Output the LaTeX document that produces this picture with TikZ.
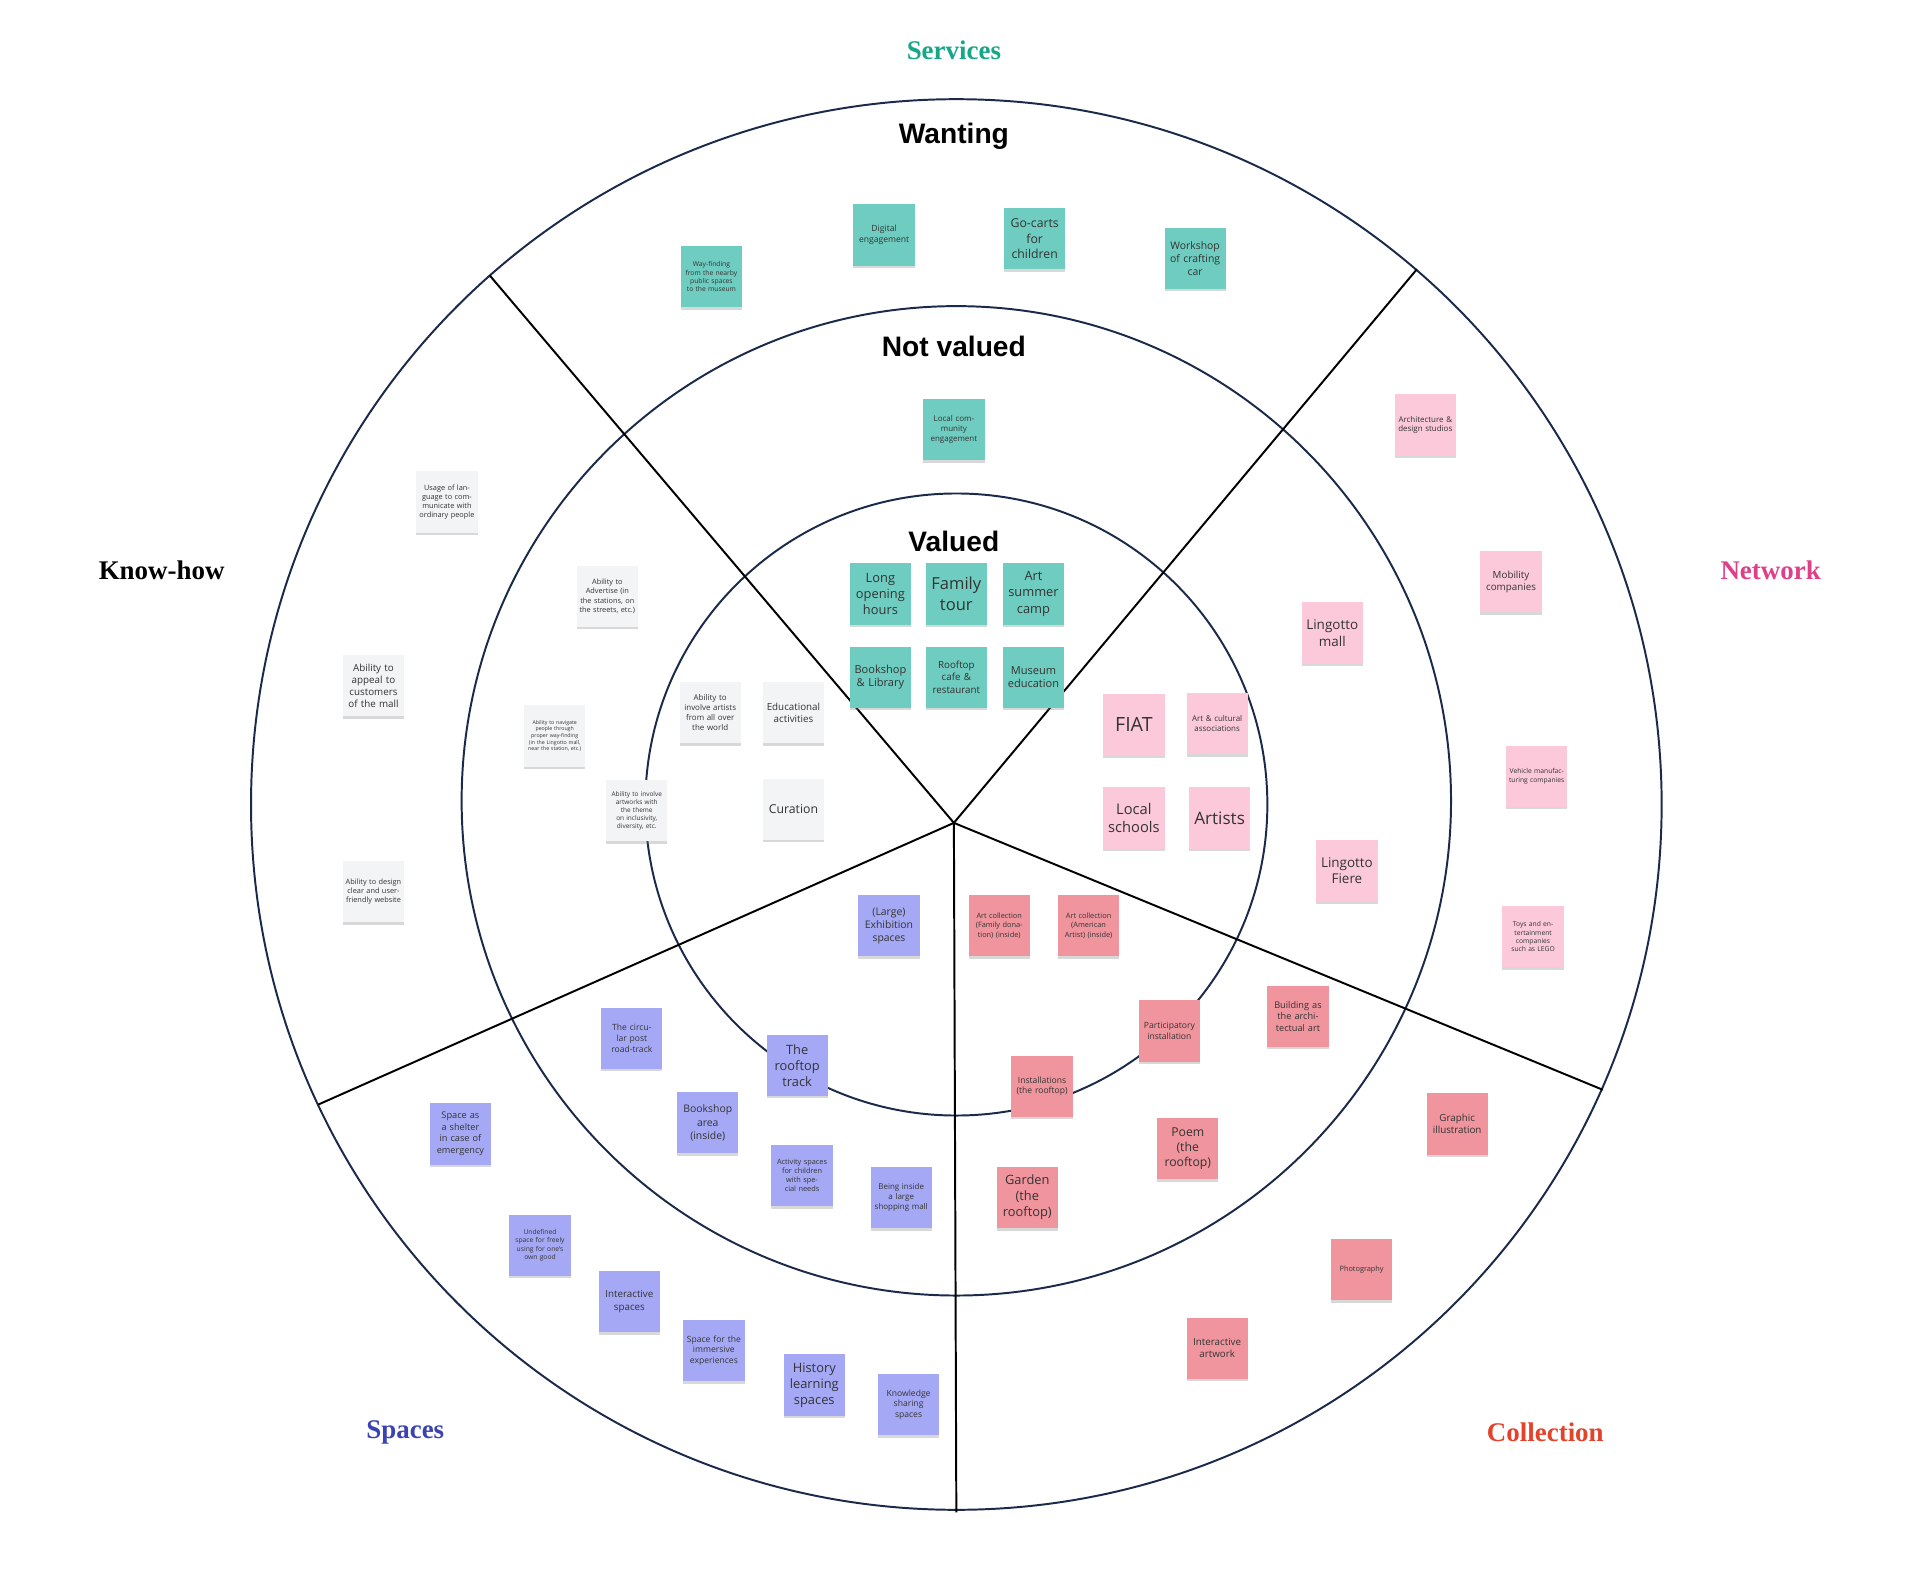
\documentclass[tikz,border=0pt]{standalone}
\usepackage{fontspec}
\setmainfont{Open Sans}
\newfontfamily\ringfont{Liberation Sans}
\newfontfamily\catfont{Liberation Serif}
\usetikzlibrary{positioning,shadows}
\definecolor{ringline}{HTML}{1C2A4A}
\definecolor{tealnote}{HTML}{6FCCC0}
\definecolor{whitenote}{HTML}{F3F4F6}
\definecolor{pinknote}{HTML}{FBC9DA}
\definecolor{salmonnote}{HTML}{F0959E}
\definecolor{bluenote}{HTML}{A5A9F5}
\definecolor{servicescol}{HTML}{17A688}
\definecolor{networkcol}{HTML}{DF3F88}
\definecolor{spacescol}{HTML}{3B43B3}
\definecolor{collectioncol}{HTML}{E5422B}
\newcommand{\fs}[1]{\fontsize{#1}{#1}\selectfont\baselineskip=1.25\baselineskip}
\tikzset{
    note/.style={minimum width=50pt, minimum height=50pt, text width=46pt,
        align=center, inner sep=1pt, text=black!80,
        drop shadow={opacity=0.3, shadow xshift=0pt, shadow yshift=-2pt}},
    teal note/.style={note, fill=tealnote},
    white note/.style={note, fill=whitenote},
    pink note/.style={note, fill=pinknote},
    salmon note/.style={note, fill=salmonnote},
    blue note/.style={note, fill=bluenote},
    ring title/.style={font=\ringfont\bfseries\fontsize{23}{26}\selectfont},
    cat title/.style={font=\catfont\bfseries\fontsize{22}{26}\selectfont}
}
\begin{document}
\begin{tikzpicture}[x=1pt, y=-1pt]
    \useasboundingbox[fill=white] (0,0) rectangle (1568,1286);
    % Rings
    \draw[ringline, line width=1.6pt] (781,657) circle (576pt);
    \draw[ringline, line width=1.6pt] (781,654) circle (404pt);
    \draw[ringline, line width=1.6pt] (781,657) circle (254pt);
    % Spokes
    \coordinate (hub) at (779,672);
    \coordinate (spokeA) at (400,225);
    \coordinate (spokeB) at (1157,220);
    \coordinate (spokeC) at (260,902);
    \coordinate (spokeD) at (1309,890);
    \coordinate (spokeE) at (781,1235);
    \foreach \s in {spokeA,spokeB,spokeC,spokeD,spokeE}
        \draw[black, line width=1.6pt] (hub) -- (\s);
    % Categories
    \node[cat title, text=servicescol] (services) at (779,41) {Services};
    \node[cat title] (knowhow) at (132,466) {Know-how};
    \node[cat title, text=networkcol] (network) at (1446,466) {Network};
    \node[cat title, text=spacescol] (spaces) at (331,1170) {Spaces};
    \node[cat title, text=collectioncol] (collection) at (1262,1170) {Collection};
    % Ring titles
    \node[ring title] (wanting) at (779,111) {Wanting};
    \node[ring title] (notvalued) at (779,283) {Not valued};
    \node[ring title] (valued) at (779,442) {Valued};
    % Services
    \node[teal note, font=\fs{5.5}] (wayfind) at (581,226) {Way-finding from the nearby public spaces to the museum};
    \node[teal note, font=\fs{7}] (digital) at (722,192) {Digital engagement};
    \node[teal note, font=\fs{10}] (gocarts) at (845,195) {Go-carts for children};
    \node[teal note, font=\fs{8.5}] (workshop) at (976,211) {Workshop of crafting car};
    \node[teal note, font=\fs{6.5}] (community) at (779,351) {Local community engagement};
    \node[teal note, font=\fs{10.5}] (opening) at (719,485) {Long opening hours};
    \node[teal note, font=\fs{13.5}] (family) at (781,485) {Family tour};
    \node[teal note, font=\fs{10.5}] (summer) at (844,485) {Art summer camp};
    \node[teal note, font=\fs{9}] (library) at (719,553) {Bookshop \& Library};
    \node[teal note, font=\fs{8}] (cafe) at (781,553) {Rooftop cafe \& restaurant};
    \node[teal note, font=\fs{9}] (education) at (844,553) {Museum education};
    % Know-how
    \node[white note, font=\fs{6}] (language) at (365,410) {Usage of language to communicate with ordinary people};
    \node[white note, font=\fs{6}] (advertise) at (496,487) {Ability to Advertise (in the stations, on the streets, etc.)};
    \node[white note, font=\fs{8}] (appeal) at (305,560) {Ability to appeal to customers of the mall};
    \node[white note, font=\fs{4.3}] (navigate) at (453,601) {Ability to navigate people through proper way-finding (in the Lingotto mall, near the station, etc.)};
    \node[white note, font=\fs{6.5}] (artists2) at (580,582) {Ability to involve artists from all over the world};
    \node[white note, font=\fs{8}] (educational) at (648,582) {Educational activities};
    \node[white note, font=\fs{5.3}] (artworks) at (520,662) {Ability to involve artworks with the theme on inclusivity, diversity, etc.};
    \node[white note, font=\fs{10}] (curation) at (648,661) {Curation};
    \node[white note, font=\fs{6}] (website) at (305,728) {Ability to design clear and user-friendly website};
    % Network
    \node[pink note, font=\fs{6.5}] (studios) at (1164,347) {Architecture \& design studios};
    \node[pink note, font=\fs{8}] (mobility) at (1234,475) {Mobility companies};
    \node[pink note, font=\fs{11}] (mall) at (1088,517) {Lingotto mall};
    \node[pink note, font=\fs{16}] (fiat) at (926,592) {FIAT};
    \node[pink note, font=\fs{6.5}] (assoc) at (994,591) {Art \& cultural associations};
    \node[pink note, font=\fs{12}] (schools) at (926,668) {Local schools};
    \node[pink note, font=\fs{14}] (artists) at (996,668) {Artists};
    \node[pink note, font=\fs{5.5}] (vehicle) at (1255,634) {Vehicle manufacturing companies};
    \node[pink note, font=\fs{11}] (fiere) at (1100,711) {Lingotto Fiere};
    \node[pink note, font=\fs{5.5}] (toys) at (1252,765) {Toys and entertainment companies such as LEGO};
    % Collection
    \node[salmon note, font=\fs{6}] (familycoll) at (816,756) {Art collection (Family donation) (inside)};
    \node[salmon note, font=\fs{6}] (american) at (889,756) {Art collection (American Artist) (inside)};
    \node[salmon note, font=\fs{7}] (particip) at (955,842) {Participatory installation};
    \node[salmon note, font=\fs{7.5}] (building) at (1060,830) {Building as the architectual art};
    \node[salmon note, font=\fs{7}] (install) at (851,887) {Installations (the rooftop)};
    \node[salmon note, font=\fs{8}] (graphic) at (1190,918) {Graphic illustration};
    \node[salmon note, font=\fs{10}] (poem) at (970,938) {Poem (the rooftop)};
    \node[salmon note, font=\fs{10.5}] (garden) at (839,978) {Garden (the rooftop)};
    \node[salmon note, font=\fs{6}] (photo) at (1112,1037) {Photography};
    \node[salmon note, font=\fs{8}] (artwork) at (994,1101) {Interactive artwork};
    % Spaces
    \node[blue note, font=\fs{8.5}] (exhibition) at (726,756) {(Large) Exhibition spaces};
    \node[blue note, font=\fs{7}] (circular) at (516,848) {The circular post road-track};
    \node[blue note, font=\fs{10.5}] (rooftrack) at (651,870) {The rooftop track};
    \node[blue note, font=\fs{7.5}] (shelter) at (376,926) {Space as a shelter in case of emergency};
    \node[blue note, font=\fs{8.5}] (bookarea) at (578,917) {Bookshop area (inside)};
    \node[blue note, font=\fs{6}] (activity) at (655,960) {Activity spaces for children with special needs};
    \node[blue note, font=\fs{6.5}] (shopping) at (736,978) {Being inside a large shopping mall};
    \node[blue note, font=\fs{5.5}] (undefined) at (441,1017) {Undefined space for freely using for one's own good};
    \node[blue note, font=\fs{8}] (interactive) at (514,1063) {Interactive spaces};
    \node[blue note, font=\fs{7}] (immersive) at (583,1103) {Space for the immersive experiences};
    \node[blue note, font=\fs{10.5}] (history) at (665,1131) {History learning spaces};
    \node[blue note, font=\fs{7}] (knowledge) at (742,1147) {Knowledge sharing spaces};
\end{tikzpicture}
\end{document}
